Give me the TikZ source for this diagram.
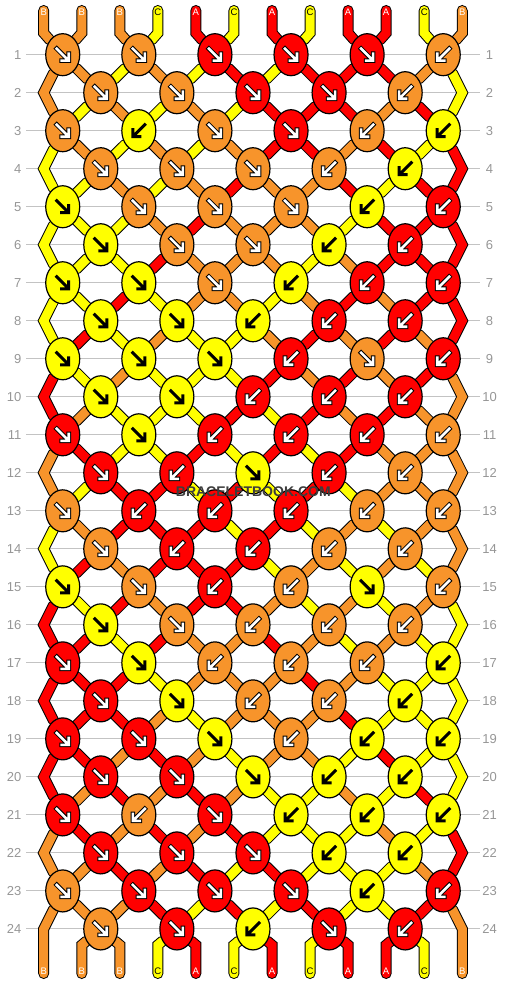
\documentclass[tikz,border=0pt]{standalone}
\usepackage{fontspec}
\setmainfont{Liberation Sans}
\usetikzlibrary{shapes.geometric}
\pgfdeclarelayer{gridlayer}
\pgfdeclarelayer{strandlayer}
\pgfsetlayers{gridlayer,strandlayer,main}
\definecolor{colA}{RGB}{255,0,0}
\definecolor{colB}{RGB}{247,148,43}
\definecolor{colC}{RGB}{255,255,0}
\definecolor{gridcol}{RGB}{195,195,195}
\definecolor{labcol}{RGB}{150,150,150}
\definecolor{wmcol}{RGB}{60,60,60}
\newcommand\setpat[2]{\expandafter\def\csname kpat#1\endcsname{#2}}
\setpat{1}{F,F,F,F,F,B}
\setpat{2}{F,F,F,F,B}
\setpat{3}{F,B,F,F,B,B}
\setpat{4}{F,F,F,B,B}
\setpat{5}{F,F,F,F,B,B}
\setpat{6}{F,F,F,B,B}
\setpat{7}{F,F,F,B,B,B}
\setpat{8}{F,F,B,B,B}
\setpat{9}{F,F,F,B,F,B}
\setpat{10}{F,F,B,B,B}
\setpat{11}{F,F,B,B,B,B}
\setpat{12}{F,B,F,B,B}
\setpat{13}{F,B,B,B,B,B}
\setpat{14}{F,B,B,B,B}
\setpat{15}{F,F,B,B,F,B}
\setpat{16}{F,F,B,B,B}
\setpat{17}{F,F,B,B,B,B}
\setpat{18}{F,F,B,B,B}
\setpat{19}{F,F,F,B,B,B}
\setpat{20}{F,F,F,B,B}
\setpat{21}{F,B,F,B,B,B}
\setpat{22}{F,F,F,B,B}
\setpat{23}{F,F,F,F,B,B}
\setpat{24}{F,F,B,F,B}
\begin{document}
\begin{tikzpicture}[x=1pt,y=-1pt,
  knot/.style={ellipse, draw=black, line width=1.2pt, minimum width=34pt, minimum height=42pt, inner sep=0pt},
  strand/.style={draw=black, line width=1pt, double=#1, double distance=9pt, line cap=round, line join=miter},
  gridline/.style={draw=gridcol, line width=1pt},
  rowlab/.style={font=\fontsize{13}{13}\selectfont, text=labcol, inner sep=0pt},
  strlab/.style={font=\fontsize{9.5}{9.5}\selectfont, inner sep=0pt},
  arrowout/.style={black, line width=4.6pt, line cap=rect, line join=miter},
  arrowin/.style={white, line width=2.6pt, line cap=rect, line join=miter},
  arrowblk/.style={black, line width=3pt, line cap=rect, line join=miter}]
\useasboundingbox (0,0) rectangle (506,984);
% grid lines and row numbers
\foreach \r in {1,...,24}{
  \pgfmathsetmacro\yy{54.7+38.01*(\r-1)}
  \coordinate (gl-\r) at (26,\yy);
  \coordinate (gr-\r) at (480,\yy);
  \begin{pgfonlayer}{gridlayer}
    \draw[gridline] (gl-\r) -- (gr-\r);
  \end{pgfonlayer}
  \node[rowlab, anchor=east] (rl-\r) at (21.5,\yy) {\r};
  \node[rowlab] (rr-\r) at (489.5,\yy) {\r};
}
% top of strings
\foreach \cl [count=\p] in {B,B,B,C,A,C,A,C,A,A,C,B}{
  \pgfmathsetmacro\xx{43.7+38.05*(\p-1)}
  \coordinate (top-\p) at (\xx,10.5);
  \coordinate (tb-\p) at (\xx,33);
  \expandafter\xdef\csname scol\p\endcsname{\cl}
  \expandafter\xdef\csname ssrc\p\endcsname{(top-\p) -- (tb-\p)}
  \if\cl C\def\tc{black}\else\def\tc{white}\fi
  \node[strlab, text=\tc] (tl-\p) at (\xx,12.7) {\cl};
}
% knots
\foreach \r in {1,...,24}{
  \pgfmathsetmacro\yy{54.7+38.01*(\r-1)}
  \edef\kpat{\csname kpat\r\endcsname}
  \foreach \kd [count=\i] in \kpat {
    \ifodd\r\relax \pgfmathtruncatemacro\kP{2*\i-1}\else \pgfmathtruncatemacro\kP{2*\i}\fi
    \pgfmathtruncatemacro\kQ{\kP+1}
    \pgfmathsetmacro\xx{43.7+38.05*(\kP-0.5)}
    \edef\colP{\csname scol\kP\endcsname}
    \edef\colQ{\csname scol\kQ\endcsname}
    \edef\srcP{\csname ssrc\kP\endcsname}
    \edef\srcQ{\csname ssrc\kQ\endcsname}
    \if\kd F\let\kc\colP\def\ax{1}\else\let\kc\colQ\def\ax{-1}\fi
    \node[knot, fill=col\kc] (k-\r-\i) at (\xx,\yy) {};
    \begin{scope}[shift={(k-\r-\i.center)}, xscale=\ax]
      \if\kc C
        \draw[arrowblk] (-6,-6) -- (4.5,4.5) (-1,6) -- (6,6) -- (6,-1);
      \else
        \draw[arrowout] (-6,-6) -- (4.5,4.5) (-1,6) -- (6,6) -- (6,-1);
        \draw[arrowin] (-6,-6) -- (4.5,4.5) (-1,6) -- (6,6) -- (6,-1);
      \fi
    \end{scope}
    \begin{pgfonlayer}{strandlayer}
      \edef\tmp{\noexpand\draw[strand=col\colP] \srcP\space-- (k-\r-\i);
                \noexpand\draw[strand=col\colQ] \srcQ\space-- (k-\r-\i);}
      \tmp
    \end{pgfonlayer}
    \expandafter\xdef\csname scol\kP\endcsname{\colQ}
    \expandafter\xdef\csname scol\kQ\endcsname{\colP}
    \expandafter\xdef\csname ssrc\kP\endcsname{(k-\r-\i)}
    \expandafter\xdef\csname ssrc\kQ\endcsname{(k-\r-\i)}
  }
  \ifodd\r\relax\else
    \coordinate (eL-\r) at (43.7,\yy);
    \coordinate (eR-\r) at (462.25,\yy);
    \expandafter\xdef\csname ssrc1\endcsname{\csname ssrc1\endcsname\space-- (eL-\r)}
    \expandafter\xdef\csname ssrc12\endcsname{\csname ssrc12\endcsname\space-- (eR-\r)}
  \fi
}
% bottom of strings
\foreach \p in {1,...,12}{
  \pgfmathsetmacro\xx{43.7+38.05*(\p-1)}
  \coordinate (bb-\p) at (\xx,945);
  \coordinate (bot-\p) at (\xx,973.5);
  \edef\colP{\csname scol\p\endcsname}
  \edef\srcP{\csname ssrc\p\endcsname}
  \begin{pgfonlayer}{strandlayer}
    \edef\tmp{\noexpand\draw[strand=col\colP] \srcP\space-- (bb-\p) -- (bot-\p);}
    \tmp
  \end{pgfonlayer}
  \if\colP C\def\tc{black}\else\def\tc{white}\fi
  \node[strlab, text=\tc] (bl-\p) at (\xx,971.7) {\colP};
}
\node[font=\bfseries\fontsize{14}{14}\selectfont, text=wmcol, inner sep=0pt] (wm) at (253.3,491.2) {BRACELETBOOK.COM};
\end{tikzpicture}
\end{document}
